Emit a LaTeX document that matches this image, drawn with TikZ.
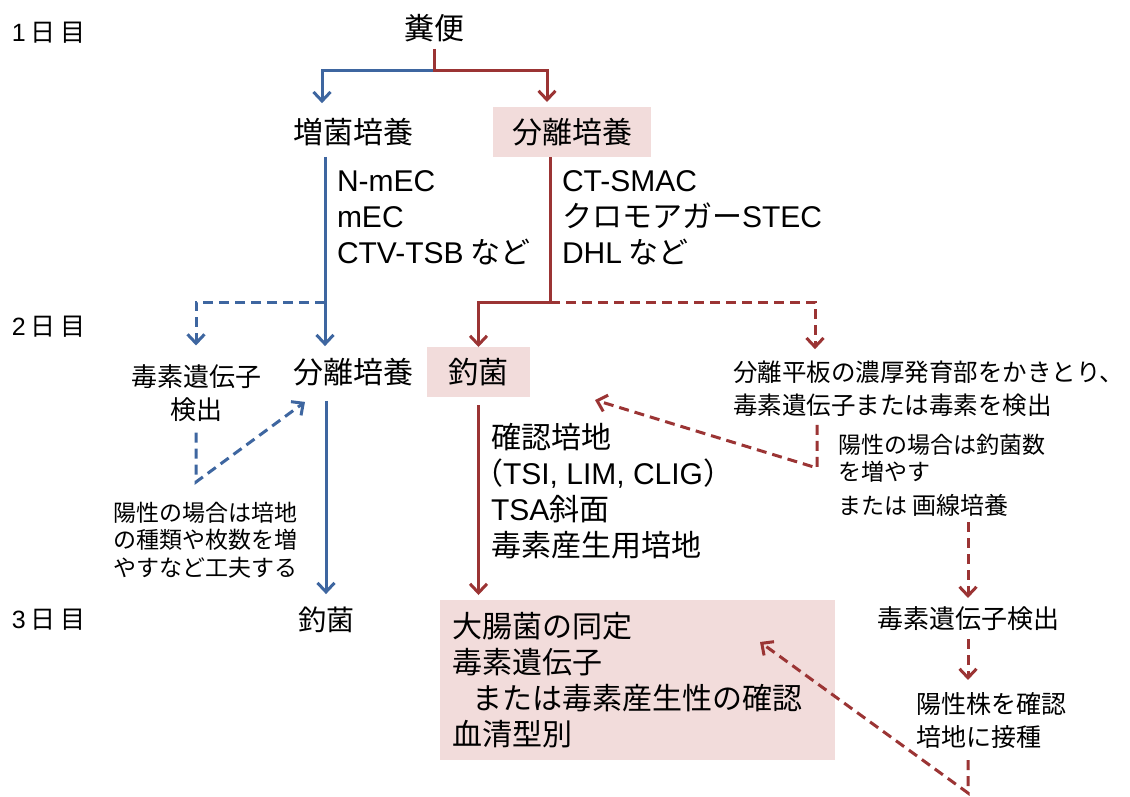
\documentclass[tikz,border=0pt]{standalone}
\usepackage{fontspec}
\setmainfont{Noto Sans CJK JP}
\newfontfamily\lat{Liberation Sans}
\usetikzlibrary{arrows.meta}
\definecolor{bl}{RGB}{62,102,160}
\definecolor{rd}{RGB}{155,52,52}
\definecolor{pk}{RGB}{242,220,219}
\tikzset{
 txt/.style={inner sep=0pt, outer sep=0pt},
 f30/.style={txt, font=\fontsize{30pt}{36pt}\selectfont},
 f28/.style={txt, font=\fontsize{28pt}{34pt}\selectfont},
 f26/.style={txt, font=\fontsize{26pt}{33pt}\selectfont},
 f25/.style={txt, font=\fontsize{25pt}{33pt}\selectfont},
 f24/.style={txt, font=\fontsize{24.5pt}{33pt}\selectfont},
 f23/.style={txt, font=\fontsize{23pt}{27.5pt}\selectfont},
 daylbl/.style={txt, anchor=west, font=\fontsize{25pt}{30pt}\selectfont},
 pinkbox/.style={fill=pk, inner sep=0pt, outer sep=0pt, font=\fontsize{30pt}{36pt}\selectfont},
 bline/.style={draw=bl, line width=3pt},
 rline/.style={draw=rd, line width=3pt},
 dsh/.style={dash pattern=on 10pt off 6pt},
 arr/.style={-{Straight Barb[length=9pt,width=17pt]}},
}
\begin{document}
\begin{tikzpicture}[x=1pt,y=-1pt]
\useasboundingbox[fill=white] (0,0) rectangle (1130,796);
% day labels
\node[daylbl] (d1) at (12,33) {{\lat 1}\kern5pt 日\kern5pt 目};
\node[daylbl] (d2) at (12,327) {{\lat 2}\kern5pt 日\kern5pt 目};
\node[daylbl] (d3) at (12,620) {{\lat 3}\kern5pt 日\kern5pt 目};
% day 1
\node[f30] (fen) at (434,28) {糞便};
\node[f30] (zokin) at (353,132) {増菌培養};
\node[pinkbox, minimum width=158pt, minimum height=50pt] (bunri1) at (572,132) {分離培養};
\node[f30, anchor=west, align=left] (list1) at (337,218) {{\lat N-mEC}\\{\lat mEC}\\{\lat CTV-TSB} など};
\node[f30, anchor=west, align=left] (list2) at (562,218) {{\lat CT-SMAC}\\クロモアガー{\lat STEC}\\{\lat DHL} など};
% day 2
\node[f26, align=center] (dokuA) at (196,393) {毒素遺伝子\\検出};
\node[f30] (bunri2) at (353,372) {分離培養};
\node[pinkbox, minimum width=103pt, minimum height=50pt] (kin2) at (478.5,372) {釣菌};
\node[f24, anchor=west, align=left] (heiban) at (733,389) {分離平板の濃厚発育部をかきとり、\\毒素遺伝子または毒素を検出};
\node[f23, anchor=west, align=left] (noteB) at (113,540) {陽性の場合は培地\\の種類や枚数を増\\やすなど工夫する};
\node[f30, anchor=west, align=left] (kakunin) at (491,491) {確認培地\\\hspace*{-18pt}（{\lat TSI, LIM, CLIG}）\\{\lat TSA}斜面\\毒素産生用培地};
\node[f23, anchor=west, align=left] (noteR) at (838,458) {陽性の場合は釣菌数\\を増やす};
\node[f23, anchor=west] (kakusen) at (838,505) {または {\fontsize{24pt}{28pt}\selectfont 画線培養}};
% day 3
\node[f28] (kin3) at (326,620) {釣菌};
\node[pinkbox, align=left, text width=371pt, inner xsep=12pt, inner ysep=0pt, minimum height=160pt] (big) at (637.5,680) {大腸菌の同定\\毒素遺伝子\\\hspace*{20pt}または毒素産生性の確認\\血清型別};
\node[f26] (doku3) at (968,619) {毒素遺伝子検出};
\node[f25, anchor=west, align=left] (yosei) at (916,720) {陽性株を確認\\培地に接種};
% connectors top
\coordinate (j1) at (434,70);
\draw[bline, arr] (j1) -| ([xshift=-31pt,yshift=15pt]zokin.north);
\draw[rline, arr] ([yshift=-7pt]fen.south) -- (j1) -| ([xshift=-25pt,yshift=5pt]bunri1.north);
% blue
\coordinate (b1) at (325,302);
\coordinate (b2) at (196,482);
\draw[bline, arr] ([xshift=-28pt,yshift=-11pt]zokin.south) -- ([xshift=-28pt,yshift=12pt]bunri2.north);
\draw[bline, dsh, arr] (b1) -| ([yshift=19pt]dokuA.north);
\draw[bline, dsh, arr] ([yshift=-11pt]dokuA.south) -- (b2) -- ([xshift=12pt,yshift=-16pt]bunri2.south west);
\draw[bline, arr] ([xshift=-27pt,yshift=-15pt]bunri2.south) -- ([yshift=13pt]kin3.north);
% red
\coordinate (r1) at (550,302);
\coordinate (r2) at (817,468);
\coordinate (r3) at (968,793);
\draw[rline, arr] ([xshift=-22pt]bunri1.south) -- (r1) -| (kin2.north);
\draw[rline, dsh, arr] (r1) -| ([xshift=82pt,yshift=12pt]heiban.north west);
\draw[rline, dsh, arr] ([xshift=84pt,yshift=-8pt]heiban.south west) -- (r2) -- ([xshift=65pt,yshift=-28pt]kin2.east);
\draw[rline, arr, shorten <=8pt, shorten >=5pt] (kin2.south) -- (kin2.south |- big.north);
\draw[rline, dsh, arr, shorten <=6pt, shorten >=9pt] (doku3.north |- kakusen.south) -- (doku3.north);
\draw[rline, dsh, arr, shorten <=8pt, shorten >=12pt] (doku3.south) -- (doku3.south |- yosei.north);
\draw[rline, dsh, arr, shorten <=12pt] (doku3.south |- yosei.south) -- (r3) -- ([xshift=-75pt,yshift=-42pt]big.north east);
\end{tikzpicture}
\end{document}
